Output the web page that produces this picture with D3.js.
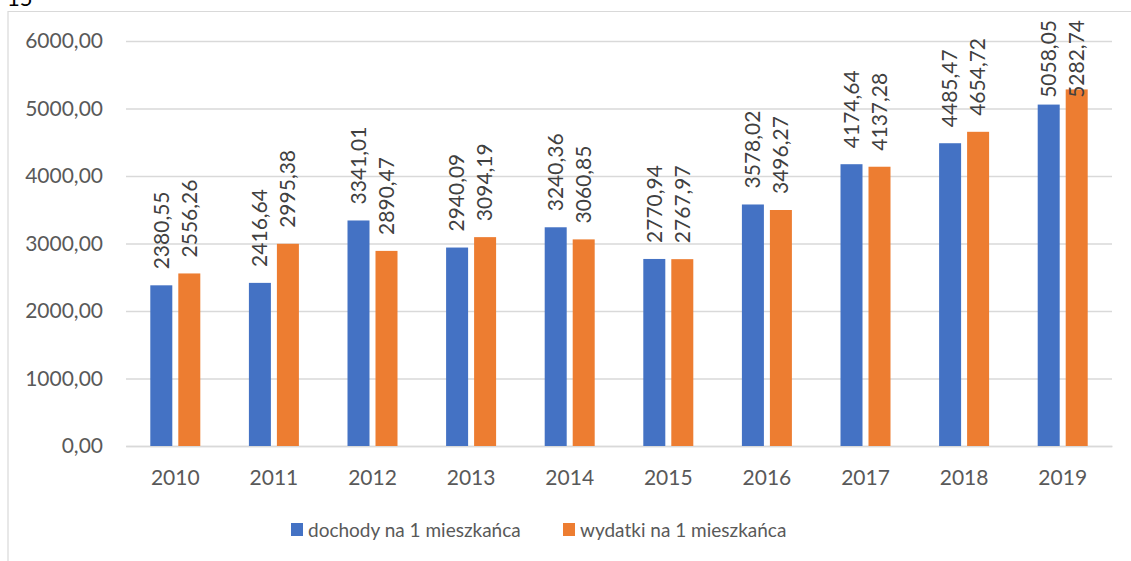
<!DOCTYPE html>
<html>
<head>
<meta charset="utf-8">
<script src="https://cdn.jsdelivr.net/npm/d3@7"></script>
<style>
  body { margin: 0; background: #fff; }
  svg { display: block; font-family: Lato, "Open Sans", sans-serif; }
</style>
</head>
<body>
<div id="chart"></div>
<script>
const years = ['2010','2011','2012','2013','2014','2015','2016','2017','2018','2019'];
const dochody = [2380.55, 2416.64, 3341.01, 2940.09, 3240.36, 2770.94, 3578.02, 4174.64, 4485.47, 5058.05];
const wydatki = [2556.26, 2995.38, 2890.47, 3094.19, 3060.85, 2767.97, 3496.27, 4137.28, 4654.72, 5282.74];
const yTicks = [0, 1000, 2000, 3000, 4000, 5000, 6000];
const seriesNames = ['dochody na 1 mieszkańca', 'wydatki na 1 mieszkańca'];
const colors = ['#4472C4', '#ED7D31'];

const W = 1131, H = 561;
const fmt = v => d3.format('.2f')(v).replace('.', ',');

const svg = d3.select('#chart').append('svg').attr('width', W).attr('height', H);

// frame of the chart area (cut at top/right)
svg.append('path').attr('d', `M8,${H} V11.5 H${W}`)
   .attr('fill', 'none').attr('stroke', '#d9d9d9').attr('stroke-width', 1.2);

// leftover heading text cut off at top
svg.append('text').attr('x', 7).attr('y', 6).attr('font-size', 22).attr('fill', '#000').text('15');

const x = d3.scaleBand(years, [126, 1112]);
const y = d3.scaleLinear([0, 6000], [446, 41]);

// gridlines + y labels
const yAxis = svg.append('g').attr('transform', 'translate(126,0)')
  .call(d3.axisLeft(y).tickValues(yTicks).tickSize(0).tickPadding(23).tickFormat(fmt))
  .call(g => g.select('.domain').remove());
yAxis.selectAll('.tick text').attr('font-size', 21).attr('fill', '#595959').attr('font-family', 'Lato, sans-serif');
yAxis.selectAll('.tick').append('line')
  .attr('x2', 986).attr('stroke', '#d9d9d9').attr('stroke-width', 1.3);

// x axis labels
const xAxis = svg.append('g').attr('transform', 'translate(0,446)')
  .call(d3.axisBottom(x).tickSize(0).tickPadding(24))
  .call(g => g.select('.domain').attr('stroke', '#d9d9d9').attr('stroke-width', 1.3));
xAxis.selectAll('.tick text').attr('font-size', 21).attr('fill', '#595959').attr('font-family', 'Lato, sans-serif');

// bars
const series = [dochody, wydatki];
const barW = 22, off = [-25, 3];
series.forEach((vals, si) => {
  svg.append('g').selectAll('rect').data(vals).join('rect')
    .attr('x', (d, i) => x(years[i]) + x.bandwidth() / 2 + off[si])
    .attr('y', d => y(d))
    .attr('width', barW)
    .attr('height', d => y(0) - y(d))
    .attr('fill', colors[si]);
});

// data labels, rotated, kept inside the chart top
series.forEach((vals, si) => {
  const g = svg.append('g');
  vals.forEach((v, i) => {
    const cx = x(years[i]) + x.bandwidth() / 2 + off[si] + barW / 2;
    const t = g.append('text')
      .attr('font-size', 21).attr('fill', '#404040')
      .attr('dy', '0.35em')
      .text(fmt(v));
    const len = t.node().getComputedTextLength();
    const bottom = Math.max(y(v) - 16, 20 + len);
    t.attr('transform', `translate(${cx},${bottom}) rotate(-90)`);
  });
});

// legend
const legendX = [291, 563];
seriesNames.forEach((name, i) => {
  const lg = svg.append('g').attr('transform', `translate(${legendX[i]},530)`);
  lg.append('rect').attr('x', 0).attr('y', -7).attr('width', 12).attr('height', 13).attr('fill', colors[i]);
  lg.append('text').attr('x', 17).attr('dy', '0.35em').attr('font-size', 19).attr('fill', '#595959').text(name);
});
</script>
</body>
</html>
